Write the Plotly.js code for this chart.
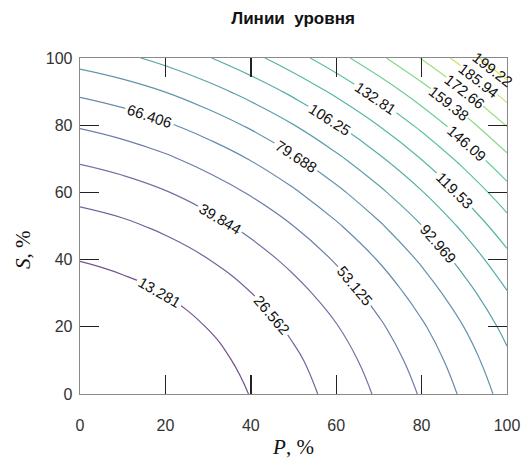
<!DOCTYPE html>
<html>
<head>
<meta charset="utf-8">
<script src="https://cdn.plot.ly/plotly-3.0.1.min.js"></script>
<style>html,body{margin:0;padding:0;background:#fff;}#chart{width:521px;height:466px;}</style>
</head>
<body>
<div id="chart"></div>
<script>
// Grid of P (%) and S (%) values
const P = [0, 10, 20, 30, 40, 50, 60, 70, 80, 90, 100];
const S = [0, 10, 20, 30, 40, 50, 60, 70, 80, 90, 100];
// Level-surface values (rows: S, columns: P)
const Z = [
  [0, 0.85, 3.4, 7.65, 13.6, 21.25, 30.6, 41.65, 54.4, 68.85, 85],
  [0.85, 2.13, 5.1, 9.78, 16.15, 24.23, 34, 45.48, 58.65, 73.53, 90.1],
  [3.4, 5.1, 8.5, 13.6, 20.4, 28.9, 39.1, 51, 64.6, 79.9, 96.9],
  [7.65, 9.78, 13.6, 19.13, 26.35, 35.28, 45.9, 58.23, 72.25, 87.98, 105.4],
  [13.6, 16.15, 20.4, 26.35, 34, 43.35, 54.4, 67.15, 81.6, 97.75, 115.6],
  [21.25, 24.23, 28.9, 35.28, 43.35, 53.1, 64.6, 77.78, 92.65, 109.23, 127.5],
  [30.6, 34, 39.1, 45.9, 54.4, 64.6, 76.5, 90.1, 105.4, 122.4, 141.1],
  [41.65, 45.48, 51, 58.23, 67.15, 77.78, 90.1, 104.13, 119.85, 137.28, 156.4],
  [54.4, 58.65, 64.6, 72.25, 81.6, 92.65, 105.4, 119.85, 136, 153.85, 173.4],
  [68.85, 73.53, 79.9, 87.98, 97.75, 109.23, 122.4, 137.28, 153.85, 172.13, 192.1],
  [85, 90.1, 96.9, 105.4, 115.6, 127.5, 141.1, 156.4, 173.4, 192.1, 212.5]
];
const levelStep = 13.28125;   // 15 levels between 0 and 212.5
const tickVals = [0, 20, 40, 60, 80, 100];
// pale viridis colours, one per level (13.281 ... 199.22)
const levelColors = ['#75508e', '#75619b', '#7170a4', '#6c7da8', '#668aaa', '#6195aa', '#5ca0aa',
  '#59ada9', '#57b7a6', '#5ec2a0', '#6fcd96', '#86d789', '#a0de7a', '#c2e564', '#e2e953'];
// levels (by number) whose short corner lines get their label on the diagonal
const cornerLabelLevels = [12, 13, 14, 15];

function scaleFrom(cols) {
  return cols.map((c, i) => [i / (cols.length - 1), c]);
}

const labelFont = {family: 'Liberation Sans, Arial, sans-serif', size: 15, color: '#111'};

function trace(start, end, size, cols) {
  return {
    type: 'contour', x: P, y: S, z: Z,
    colorscale: scaleFrom(cols), showscale: false,
    autocontour: false,
    contours: {
      coloring: 'lines', start: start, end: end, size: size,
      showlabels: true, labelformat: '.5g', labelfont: labelFont
    },
    line: {width: 1.2, smoothing: 1.3},
    hoverinfo: 'skip'
  };
}

const data = [
  trace(levelStep * 3, levelStep * 15, levelStep, levelColors.slice(2)),
  trace(levelStep, levelStep * 2, levelStep - 0.00001, levelColors.slice(0, 2))
];

// label position on the diagonal P = S, interpolated from the grid's diagonal values
const diag = P.map((p, i) => Z[i][i]);
function diagCrossing(level) {
  for (let i = 0; i < diag.length - 1; i++) {
    if (level >= diag[i] && level <= diag[i + 1]) {
      return P[i] + (level - diag[i]) / (diag[i + 1] - diag[i]) * (P[i + 1] - P[i]);
    }
  }
  return null;
}
const cornerAnnotations = cornerLabelLevels.map(n => {
  const level = n * levelStep;
  const t = diagCrossing(level);
  return {
    text: String(Number(level.toPrecision(5))), xref: 'x', yref: 'y', x: t, y: t,
    xanchor: 'center', yanchor: 'middle', textangle: 38, showarrow: false,
    font: labelFont, bgcolor: n === 15 ? 'rgba(0,0,0,0)' : '#ffffff', borderpad: 0
  };
});

const tickFont = {family: 'Liberation Sans, Arial, sans-serif', size: 16, color: '#333'};
const axisCommon = {
  range: [0, 100], tickvals: tickVals, ticks: 'inside', ticklen: 19, tickwidth: 1.4,
  tickcolor: '#222', showline: true, linecolor: '#8a8a8a', linewidth: 1.3, mirror: 'ticks',
  showgrid: false, zeroline: false, tickfont: tickFont
};

const layout = {
  width: 521, height: 466,
  margin: {l: 80, r: 14, t: 58, b: 72},
  paper_bgcolor: '#fff', plot_bgcolor: '#fff',
  showlegend: false,
  title: {text: '<b>Линии\u00a0 уровня</b>', x: 0.5625, xanchor: 'center', y: 0.962, yanchor: 'middle',
          font: {family: 'Liberation Sans, Arial, sans-serif', size: 17, color: '#111'}},
  xaxis: Object.assign({}, axisCommon, {
    ticklabelstandoff: 16,
    title: {text: '<i>P</i>, %', standoff: 6,
            font: {family: 'Liberation Serif, Times New Roman, serif', size: 21, color: '#111'}}
  }),
  yaxis: Object.assign({}, axisCommon, {ticklabelstandoff: 3}),
  annotations: [{
    text: '<i>S</i>, %', xref: 'paper', yref: 'paper', x: -0.135, y: 0.43,
    xanchor: 'center', yanchor: 'middle', textangle: -90, showarrow: false,
    font: {family: 'Liberation Serif, Times New Roman, serif', size: 21, color: '#111'}
  }].concat(cornerAnnotations)
};

Plotly.newPlot('chart', data, layout, {displayModeBar: false, staticPlot: true});
</script>
</body>
</html>
